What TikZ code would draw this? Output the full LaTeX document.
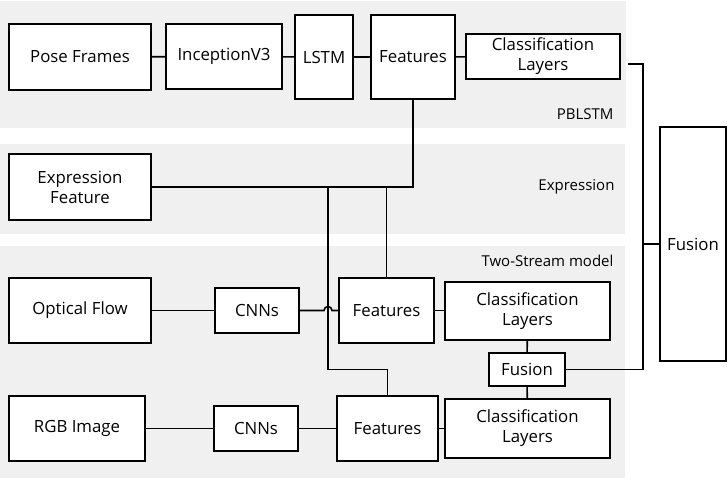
\documentclass[tikz,border=0pt]{standalone}
\usepackage{fontspec}
\setmainfont{Open Sans}
\usepackage{tikz}
\usetikzlibrary{positioning,calc}
\definecolor{panel}{HTML}{F0F0F0}

\begin{document}
\begin{tikzpicture}[x=1pt,y=-1pt,
  blk/.style={draw,line width=1.5pt,fill=white,align=center,inner sep=1pt,
              font=\fontsize{16.8}{20}\selectfont},
  lbl/.style={anchor=east,font=\fontsize{15}{17}\selectfont},
  wire/.style={line width=1.6pt}
]
\useasboundingbox (0,0) rectangle (728,480);
% panels
\fill[panel] (0,1) rectangle (626,128);
\fill[panel] (0,144) rectangle (625,234);
\fill[panel] (0,246) rectangle (625,478);
\node[lbl] (tpb) at (617,114) {PBLSTM};
\node[lbl] (tex) at (618,187) {Expression};
\node[lbl] (tts) at (617,261) {Two-Stream model};

% PBLSTM
\node[blk,minimum width=142pt,minimum height=66pt] (pose) at (80,57) {Pose Frames};
\node[blk,minimum width=116pt,minimum height=65pt] (incep) at (224,56.5) {InceptionV3};
\node[blk,minimum width=58pt,minimum height=84pt] (lstm) at (324,57) {LSTM};
\node[blk,minimum width=84pt,minimum height=84pt] (feat1) at (413,57) {Features};
\node[blk,minimum width=154pt,minimum height=45pt] (cls1) at (543,56.5) {Classification\\Layers};

% Expression
\node[blk,minimum width=142pt,minimum height=66pt] (expr) at (80,187) {Expression\\Feature};

% Two-Stream
\node[blk,minimum width=142pt,minimum height=65pt] (optf) at (80,310.5) {Optical Flow};
\node[blk,minimum width=84pt,minimum height=45pt] (cnn1) at (257,310.5) {CNNs};
\node[blk,minimum width=95pt,minimum height=65pt] (feat2) at (386.5,310.5) {Features};
\node[blk,minimum width=165pt,minimum height=58pt] (cls2) at (527.5,311) {Classification\\Layers};
\node[blk,minimum width=76pt,minimum height=33pt] (fus1) at (527,369.5) {Fusion};
\node[blk,minimum width=136pt,minimum height=65pt] (rgb) at (77,428.5) {RGB Image};
\node[blk,minimum width=84pt,minimum height=45pt] (cnn2) at (256,428.5) {CNNs};
\node[blk,minimum width=101pt,minimum height=65pt] (feat3) at (387.5,428.5) {Features};
\node[blk,minimum width=165pt,minimum height=59pt] (cls3) at (527.5,428.5) {Classification\\Layers};

% late fusion
\node[blk,minimum width=66pt,minimum height=234pt] (fus2) at (693,244) {Fusion};

% wires
\draw[wire] (pose) -- (incep);
\draw[wire] (incep) -- (lstm);
\draw[wire] (lstm) -- (feat1);
\draw[wire] (feat1) -- (cls1);
\draw[wire] (expr.east) -| (feat1.south);
\coordinate (j1) at (328,187);
\draw[wire] (j1) |- (feat3.north |- fus1.east) -- (feat3.north);
\draw[wire] (feat2.north |- expr.east) -- (feat2.north);
\draw[wire] (optf) -- (cnn1);
\draw[wire] (cnn1.east) -- ($(j1 |- cnn1.east)+(-4,0)$)
  arc[start angle=180,end angle=0,radius=4pt] -- (feat2.west);
\draw[wire] (feat2.east) -- (feat2.east -| cls2.west);
\draw[wire] (rgb) -- (cnn2);
\draw[wire] (cnn2) -- (feat3);
\draw[wire] (feat3.east) -- (feat3.east -| cls3.west);
\draw[wire] (cls2) -- (fus1);
\draw[wire] (fus1) -- (cls3);
\coordinate (b1) at (643,64);
\draw[wire] ($(cls1.east)+(7,7.5)$) -- (b1) |- (fus1.east);
\draw[wire] (fus2.west) -- (fus2.west -| b1);
\end{tikzpicture}
\end{document}
